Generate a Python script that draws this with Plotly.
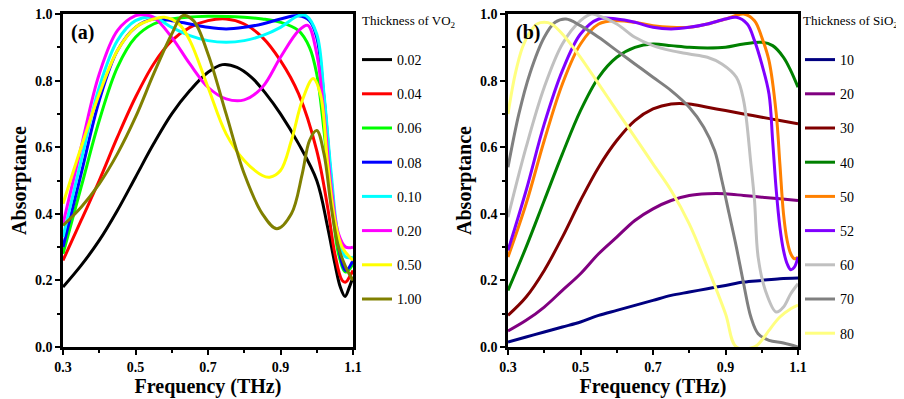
import plotly.graph_objects as go

# ---------------- Panel (a): thickness of VO2 ----------------
vo2_labels = ["0.02", "0.04", "0.06", "0.08", "0.10", "0.20", "0.50", "1.00"]
vo2_colors = ["#000000", "#ff0000", "#00ff00", "#0000ff", "#00ffff", "#ff00ff", "#ffff00", "#808000"]

a_x_002 = [0.30, 0.35, 0.40, 0.45, 0.50, 0.55, 0.60, 0.65, 0.70, 0.74, 0.78, 0.82, 0.86, 0.90, 0.95, 1.00, 1.03, 1.05, 1.065, 1.078, 1.09, 1.10]
a_y_002 = [0.18, 0.245, 0.32, 0.41, 0.51, 0.61, 0.70, 0.77, 0.825, 0.848, 0.84, 0.81, 0.76, 0.70, 0.61, 0.50, 0.36, 0.25, 0.18, 0.152, 0.18, 0.21]

a_x_004 = [0.30, 0.35, 0.40, 0.45, 0.50, 0.55, 0.60, 0.65, 0.70, 0.75, 0.80, 0.85, 0.90, 0.95, 1.00, 1.03, 1.05, 1.07, 1.08, 1.09, 1.10]
a_y_004 = [0.26, 0.38, 0.50, 0.63, 0.75, 0.85, 0.92, 0.96, 0.98, 0.985, 0.97, 0.93, 0.86, 0.76, 0.59, 0.42, 0.28, 0.20, 0.195, 0.21, 0.23]

a_x_006 = [0.30, 0.35, 0.40, 0.45, 0.50, 0.55, 0.60, 0.70, 0.80, 0.85, 0.90, 0.95, 0.98, 1.00, 1.02, 1.04, 1.06, 1.08, 1.10]
a_y_006 = [0.28, 0.48, 0.68, 0.84, 0.93, 0.97, 0.985, 0.993, 0.99, 0.985, 0.975, 0.95, 0.90, 0.82, 0.65, 0.45, 0.28, 0.225, 0.25]

a_x_008 = [0.30, 0.35, 0.40, 0.45, 0.50, 0.55, 0.60, 0.65, 0.70, 0.75, 0.80, 0.85, 0.90, 0.95, 0.98, 1.00, 1.02, 1.04, 1.06, 1.08, 1.10]
a_y_008 = [0.30, 0.52, 0.74, 0.89, 0.96, 0.985, 0.98, 0.97, 0.96, 0.955, 0.96, 0.97, 0.985, 0.995, 0.98, 0.93, 0.75, 0.50, 0.30, 0.23, 0.26]

a_x_010 = [0.30, 0.35, 0.40, 0.45, 0.50, 0.55, 0.60, 0.65, 0.70, 0.75, 0.80, 0.85, 0.90, 0.95, 0.97, 1.00, 1.02, 1.04, 1.06, 1.08, 1.10]
a_y_010 = [0.33, 0.56, 0.78, 0.92, 0.98, 0.99, 0.96, 0.935, 0.92, 0.915, 0.92, 0.935, 0.96, 0.995, 0.995, 0.94, 0.76, 0.52, 0.33, 0.27, 0.27]

a_x_020 = [0.30, 0.35, 0.40, 0.45, 0.50, 0.52, 0.55, 0.60, 0.65, 0.70, 0.75, 0.80, 0.85, 0.90, 0.95, 0.975, 1.00, 1.02, 1.04, 1.06, 1.08, 1.10]
a_y_020 = [0.37, 0.60, 0.82, 0.95, 0.995, 0.998, 0.99, 0.93, 0.85, 0.78, 0.745, 0.742, 0.78, 0.87, 0.95, 0.966, 0.88, 0.70, 0.48, 0.34, 0.30, 0.30]

a_x_050 = [0.30, 0.35, 0.40, 0.45, 0.50, 0.55, 0.58, 0.62, 0.65, 0.70, 0.75, 0.80, 0.85, 0.87, 0.90, 0.93, 0.96, 0.99, 1.01, 1.03, 1.05, 1.07, 1.10]
a_y_050 = [0.43, 0.60, 0.76, 0.89, 0.96, 0.985, 0.99, 0.97, 0.92, 0.78, 0.64, 0.56, 0.515, 0.51, 0.53, 0.62, 0.74, 0.806, 0.76, 0.55, 0.38, 0.30, 0.26]

a_x_100 = [0.30, 0.35, 0.40, 0.45, 0.50, 0.55, 0.60, 0.63, 0.66, 0.70, 0.75, 0.80, 0.85, 0.89, 0.93, 0.96, 0.98, 1.00, 1.02, 1.04, 1.06, 1.08, 1.10]
a_y_100 = [0.365, 0.42, 0.49, 0.58, 0.69, 0.82, 0.94, 0.995, 0.98, 0.88, 0.70, 0.52, 0.40, 0.355, 0.40, 0.52, 0.62, 0.65, 0.58, 0.42, 0.30, 0.24, 0.20]

a_xs = [a_x_002, a_x_004, a_x_006, a_x_008, a_x_010, a_x_020, a_x_050, a_x_100]
a_ys = [a_y_002, a_y_004, a_y_006, a_y_008, a_y_010, a_y_020, a_y_050, a_y_100]

# ---------------- Panel (b): thickness of SiO2 ----------------
sio2_labels = ["10", "20", "30", "40", "50", "52", "60", "70", "80"]
sio2_colors = ["#000080", "#800080", "#800000", "#008000", "#ff8000", "#8000ff", "#c0c0c0", "#808080", "#ffff80"]

b_x_10 = [0.30, 0.35, 0.40, 0.45, 0.50, 0.55, 0.60, 0.65, 0.70, 0.75, 0.80, 0.85, 0.90, 0.95, 1.00, 1.05, 1.10]
b_y_10 = [0.015, 0.03, 0.045, 0.06, 0.075, 0.095, 0.11, 0.125, 0.14, 0.155, 0.165, 0.175, 0.185, 0.195, 0.20, 0.205, 0.207]

b_x_20 = [0.30, 0.35, 0.40, 0.45, 0.50, 0.55, 0.60, 0.65, 0.70, 0.75, 0.80, 0.85, 0.90, 0.95, 1.00, 1.05, 1.10]
b_y_20 = [0.048, 0.08, 0.12, 0.17, 0.22, 0.28, 0.33, 0.38, 0.415, 0.44, 0.455, 0.46, 0.46, 0.455, 0.45, 0.445, 0.44]

b_x_30 = [0.30, 0.35, 0.40, 0.45, 0.50, 0.55, 0.60, 0.65, 0.70, 0.75, 0.80, 0.85, 0.90, 0.95, 1.00, 1.05, 1.10]
b_y_30 = [0.095, 0.15, 0.23, 0.33, 0.44, 0.54, 0.62, 0.68, 0.715, 0.73, 0.73, 0.72, 0.71, 0.70, 0.69, 0.68, 0.67]

b_x_40 = [0.30, 0.35, 0.40, 0.45, 0.50, 0.55, 0.60, 0.65, 0.70, 0.75, 0.80, 0.85, 0.90, 0.95, 1.00, 1.03, 1.06, 1.08, 1.10]
b_y_40 = [0.17, 0.30, 0.44, 0.58, 0.71, 0.81, 0.87, 0.90, 0.91, 0.905, 0.90, 0.898, 0.90, 0.91, 0.915, 0.905, 0.87, 0.83, 0.78]

b_x_50 = [0.30, 0.35, 0.40, 0.45, 0.50, 0.55, 0.60, 0.65, 0.70, 0.75, 0.80, 0.85, 0.90, 0.95, 0.98, 1.00, 1.02, 1.04, 1.05, 1.06, 1.07, 1.08, 1.09, 1.10]
b_y_50 = [0.27, 0.43, 0.62, 0.79, 0.91, 0.97, 0.98, 0.975, 0.965, 0.96, 0.96, 0.97, 0.985, 1.0, 0.98, 0.93, 0.86, 0.70, 0.55, 0.40, 0.32, 0.28, 0.265, 0.27]

b_x_52 = [0.30, 0.35, 0.40, 0.45, 0.50, 0.55, 0.60, 0.65, 0.70, 0.75, 0.80, 0.85, 0.90, 0.93, 0.96, 0.98, 1.00, 1.02, 1.03, 1.04, 1.05, 1.06, 1.07, 1.08, 1.09, 1.10]
b_y_52 = [0.29, 0.47, 0.67, 0.83, 0.94, 0.985, 0.985, 0.975, 0.96, 0.955, 0.96, 0.97, 0.985, 0.99, 0.97, 0.92, 0.85, 0.76, 0.62, 0.47, 0.36, 0.29, 0.25, 0.232, 0.24, 0.27]

b_x_60 = [0.30, 0.35, 0.40, 0.45, 0.50, 0.53, 0.55, 0.60, 0.65, 0.70, 0.75, 0.80, 0.85, 0.89, 0.93, 0.95, 0.97, 0.98, 0.99, 1.01, 1.04, 1.06, 1.08, 1.10]
b_y_60 = [0.39, 0.60, 0.78, 0.91, 0.98, 1.0, 0.995, 0.97, 0.93, 0.905, 0.89, 0.88, 0.87, 0.85, 0.81, 0.74, 0.55, 0.44, 0.27, 0.17, 0.105, 0.12, 0.16, 0.19]

b_x_70 = [0.30, 0.33, 0.36, 0.40, 0.43, 0.46, 0.50, 0.55, 0.60, 0.65, 0.70, 0.75, 0.80, 0.84, 0.87, 0.89, 0.91, 0.93, 0.95, 0.97, 0.99, 1.02, 1.06, 1.10]
b_y_70 = [0.54, 0.70, 0.82, 0.93, 0.975, 0.985, 0.965, 0.93, 0.89, 0.85, 0.81, 0.77, 0.72, 0.66, 0.59, 0.50, 0.40, 0.30, 0.19, 0.09, 0.04, 0.02, 0.012, 0.0]

b_x_80 = [0.30, 0.32, 0.34, 0.36, 0.38, 0.40, 0.42, 0.45, 0.50, 0.55, 0.60, 0.65, 0.70, 0.75, 0.80, 0.85, 0.90, 0.93, 0.98, 1.00, 1.02, 1.05, 1.08, 1.10]
b_y_80 = [0.70, 0.82, 0.90, 0.945, 0.97, 0.975, 0.97, 0.94, 0.87, 0.79, 0.71, 0.63, 0.55, 0.47, 0.37, 0.24, 0.10, 0.0, 0.0, 0.02, 0.05, 0.09, 0.115, 0.126]

b_xs = [b_x_10, b_x_20, b_x_30, b_x_40, b_x_50, b_x_52, b_x_60, b_x_70, b_x_80]
b_ys = [b_y_10, b_y_20, b_y_30, b_y_40, b_y_50, b_y_52, b_y_60, b_y_70, b_y_80]

# ---------------- Axis ticks ----------------
x_tickvals = [0.3, 0.5, 0.7, 0.9, 1.1]
x_ticktext = ["0.3", "0.5", "0.7", "0.9", "1.1"]
y_tickvals = [0.0, 0.2, 0.4, 0.6, 0.8, 1.0]
y_ticktext = ["0.0", "0.2", "0.4", "0.6", "0.8", "1.0"]
x_minor = [0.4, 0.6, 0.8, 1.0]
y_minor = [0.1, 0.3, 0.5, 0.7, 0.9]
mirror_x_ticks = [0.3, 0.4, 0.5, 0.6, 0.7, 0.8, 0.9, 1.0, 1.1]
mirror_y_ticks = [0.0, 0.1, 0.2, 0.3, 0.4, 0.5, 0.6, 0.7, 0.8, 0.9, 1.0]

# The page body adds an 8 px margin, so the figure is 8 px smaller and all positions are shifted.
OFF = 8
W, H = 904 - OFF, 399 - OFF
SERIF = "Liberation Serif"

def fx(px):
    return (px - OFF) / W

def fy(py):
    return 1 - (py - OFF) / H

fig = go.Figure()

for lab, col, xs, ys in zip(vo2_labels, vo2_colors, a_xs, a_ys):
    fig.add_trace(go.Scatter(x=xs, y=ys, mode="lines", name=lab, legendgroup="a" + lab,
                             line=dict(color=col, width=3, shape="spline", smoothing=1.0),
                             xaxis="x", yaxis="y", legend="legend"))
for lab, col, xs, ys in zip(sio2_labels, sio2_colors, b_xs, b_ys):
    fig.add_trace(go.Scatter(x=xs, y=ys, mode="lines", name=lab, legendgroup="b" + lab,
                             line=dict(color=col, width=3, shape="spline", smoothing=1.0),
                             xaxis="x2", yaxis="y2", legend="legend2"))

ydom = [fy(347), fy(14)]
xdom_a = [fx(63), fx(353)]
xdom_b = [fx(508), fx(798)]

tickfont = dict(family=SERIF, size=14, color="black")
titlefont = dict(family=SERIF, size=20, color="black")

def bold(lst):
    return ["<b>%s</b>" % t for t in lst]

def main_x(dom, anchor):
    return dict(domain=dom, anchor=anchor, range=[0.3, 1.1], tickvals=x_tickvals, ticktext=bold(x_ticktext),
                ticks="outside", ticklen=5, tickwidth=2, tickcolor="black",
                minor=dict(tickvals=x_minor, ticks="outside", ticklen=3, tickwidth=2, tickcolor="black"),
                showline=True, linewidth=2.5, linecolor="black", mirror=True,
                showgrid=False, zeroline=False, tickfont=tickfont, automargin=False,
                ticklabeloverflow="allow",
                title=dict(text="<b>Frequency (THz)</b>", font=titlefont, standoff=4))

def main_y(dom, anchor):
    return dict(domain=dom, anchor=anchor, range=[0, 1.0], tickvals=y_tickvals, ticktext=bold(y_ticktext),
                ticks="outside", ticklen=5, tickwidth=2, tickcolor="black",
                minor=dict(tickvals=y_minor, ticks="outside", ticklen=3, tickwidth=2, tickcolor="black"),
                showline=True, linewidth=2.5, linecolor="black", mirror=True,
                showgrid=False, zeroline=False, tickfont=tickfont, automargin=False,
                ticklabeloverflow="allow",
                title=dict(text="<b>Absorptance</b>", font=titlefont, standoff=3))

def top_x(over, anchor):
    return dict(overlaying=over, anchor=anchor, side="top", range=[0.3, 1.1], tickvals=mirror_x_ticks,
                ticks="inside", ticklen=4, tickwidth=2, tickcolor="black", showticklabels=False,
                showline=False, showgrid=False, zeroline=False, automargin=False)

def right_y(over, anchor):
    return dict(overlaying=over, anchor=anchor, side="right", range=[0, 1.0], tickvals=mirror_y_ticks,
                ticks="inside", ticklen=4, tickwidth=2, tickcolor="black", showticklabels=False,
                showline=False, showgrid=False, zeroline=False, automargin=False)

legfont = dict(family=SERIF, size=14, color="black")
legtitlefont = dict(family=SERIF, size=13, color="black")

fig.update_layout(
    width=W, height=H, autosize=False,
    margin=dict(l=0, r=0, t=0, b=0, autoexpand=False),
    paper_bgcolor="white", plot_bgcolor="white",
    xaxis=main_x(xdom_a, "y"), yaxis=main_y(ydom, "x"),
    xaxis2=main_x(xdom_b, "y2"), yaxis2=main_y(ydom, "x2"),
    xaxis3=top_x("x", "y"), yaxis3=right_y("y", "x"),
    xaxis4=top_x("x2", "y2"), yaxis4=right_y("y2", "x2"),
    legend=dict(x=fx(357), y=fy(44), xanchor="left", yanchor="top", font=legfont,
                bgcolor="rgba(0,0,0,0)", itemwidth=30, tracegroupgap=13, traceorder="grouped"),
    legend2=dict(x=fx(800), y=fy(44), xanchor="left", yanchor="top", font=legfont,
                 bgcolor="rgba(0,0,0,0)", itemwidth=30, tracegroupgap=13, traceorder="grouped"),
    annotations=[
        dict(text="Thickness of VO<sub>2</sub>", x=fx(360), y=fy(22), xref="paper", yref="paper",
             xanchor="left", yanchor="middle", showarrow=False, font=legtitlefont),
        dict(text="Thickness of SiO<sub>2</sub>", x=fx(801), y=fy(22), xref="paper", yref="paper",
             xanchor="left", yanchor="middle", showarrow=False, font=legtitlefont),
        dict(text="<b>(a)</b>", x=0.02, y=0.985, xref="x domain", yref="y domain", xanchor="left", yanchor="top",
             showarrow=False, font=dict(family=SERIF, size=20, color="black")),
        dict(text="<b>(b)</b>", x=0.02, y=0.985, xref="x2 domain", yref="y2 domain", xanchor="left", yanchor="top",
             showarrow=False, font=dict(family=SERIF, size=20, color="black")),
    ],
)

fig.write_html("out.html")
